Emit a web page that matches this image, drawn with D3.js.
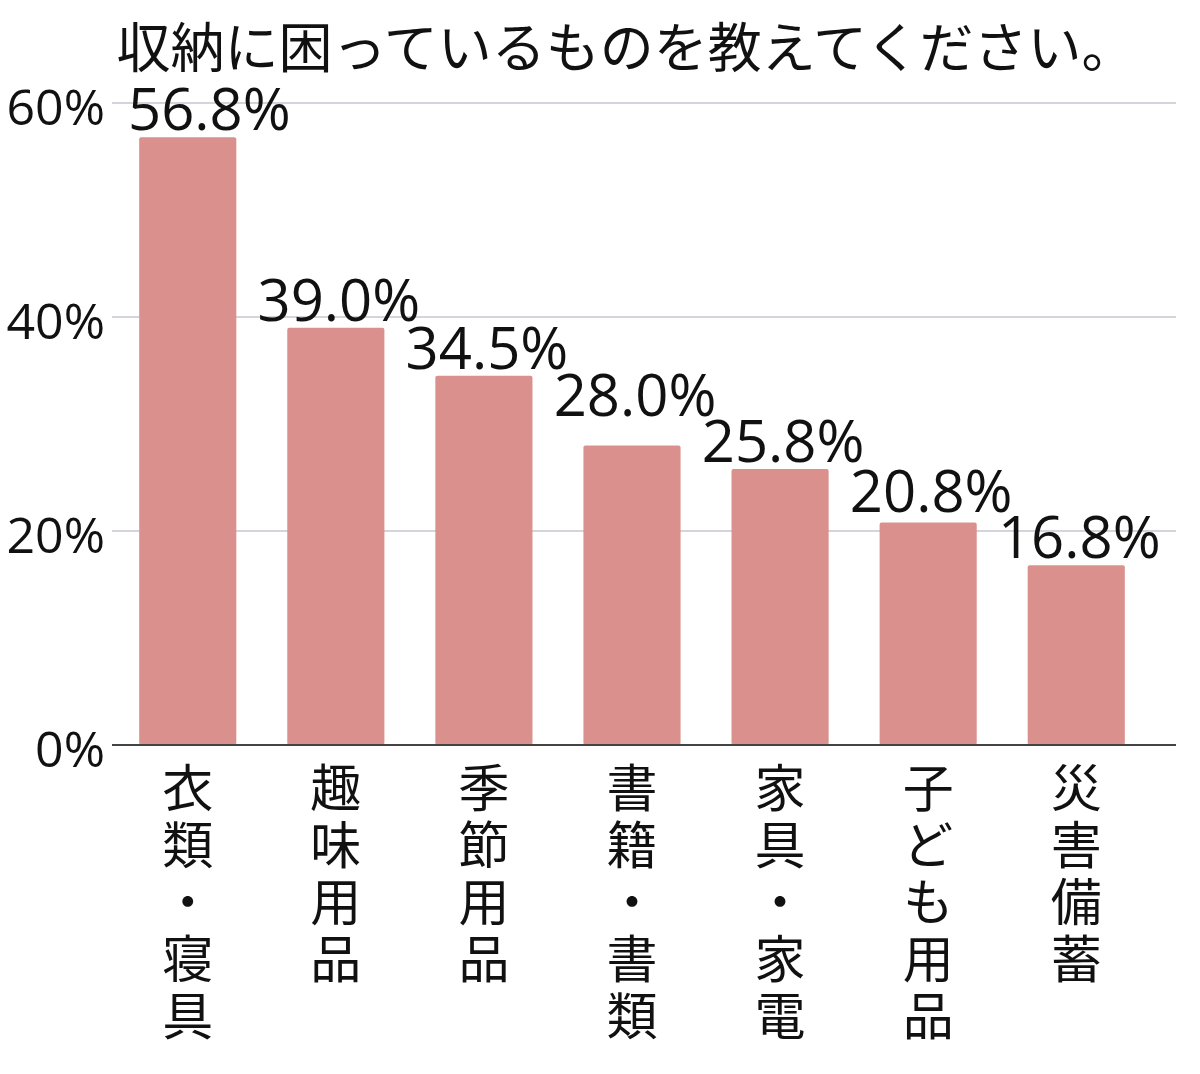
<!DOCTYPE html>
<html lang="ja">
<head>
<meta charset="UTF-8">
<title>収納に困っているもの</title>
<script src="https://d3js.org/d3.v7.min.js"></script>
<style>
    body { margin: 0; background: #fff; }
    svg text { font-family: 'Noto Sans CJK JP', 'Noto Sans', sans-serif; fill: #111; }
    svg text.num { font-family: 'Open Sans', 'Noto Sans', sans-serif; }
    svg text.cat { writing-mode: vertical-rl; letter-spacing: 6px; }
</style>
</head>
<body>
<div id="chart"></div>
<script>
    // data
    const categories = ['衣類・寝具', '趣味用品', '季節用品', '書籍・書類', '家具・家電', '子ども用品', '災害備蓄'];
    const values = [56.8, 39.0, 34.5, 28.0, 25.8, 20.8, 16.8];
    const yTicks = [0, 20, 40, 60];
    const title = '収納に困っているものを教えてください。';

    const width = 1200;
    const height = 1074;
    const plotLeft = 112, plotRight = 1176;
    const plotTop = 103, plotBottom = 745;
    const labelSize = 58;

    const svg = d3.select('#chart').append('svg')
        .attr('width', width)
        .attr('height', height);

    const x = d3.scaleBand()
        .domain(categories)
        .range([114, 1150])
        .paddingInner(0.344)
        .paddingOuter(0.17);

    const y = d3.scaleLinear()
        .domain([0, 60])
        .range([plotBottom, plotTop]);

    // title
    svg.append('text')
        .attr('x', 626)
        .attr('y', 68)
        .attr('text-anchor', 'middle')
        .style('font-size', '54px')
        .text(title);

    // gridlines
    svg.append('g')
        .selectAll('line')
        .data(yTicks.filter(d => d > 0))
        .join('line')
        .attr('x1', plotLeft)
        .attr('x2', plotRight)
        .attr('y1', d => y(d))
        .attr('y2', d => y(d))
        .attr('stroke', '#d4d4da')
        .attr('stroke-width', 2);

    // y tick labels
    svg.append('g')
        .selectAll('text')
        .data(yTicks)
        .join('text')
        .attr('class', 'num')
        .attr('x', 105)
        .attr('y', d => y(d) + 22)
        .attr('text-anchor', 'end')
        .style('font-size', '50px')
        .text(d => d + '%');

    // bars
    svg.append('g')
        .selectAll('rect')
        .data(values)
        .join('rect')
        .attr('x', (d, i) => x(categories[i]))
        .attr('y', d => y(d))
        .attr('width', x.bandwidth())
        .attr('height', d => y(0) - y(d))
        .attr('rx', 2)
        .attr('fill', '#da918d');

    // baseline
    svg.append('line')
        .attr('x1', plotLeft)
        .attr('x2', plotRight)
        .attr('y1', y(0))
        .attr('y2', y(0))
        .attr('stroke', '#444')
        .attr('stroke-width', 2);

    // value labels
    const labels = svg.append('g')
        .selectAll('text')
        .data(values)
        .join('text')
        .attr('class', 'num')
        .attr('x', (d, i) => x(categories[i]) + x.bandwidth() / 2 + 3)
        .attr('y', d => y(d) - 7)
        .attr('text-anchor', 'middle')
        .style('font-size', labelSize + 'px')
        .text(d => d.toFixed(1) + '%');

    // keep the first label clear of the tick labels
    labels.each(function () {
        const box = this.getBBox();
        if (box.x < 128) {
            d3.select(this).attr('x', +d3.select(this).attr('x') + (128 - box.x));
        }
    });

    // lift a label when it runs into its right-hand neighbour
    const nodes = labels.nodes();
    for (let i = nodes.length - 2; i >= 0; i--) {
        const a = nodes[i].getBBox(), b = nodes[i + 1].getBBox();
        const baseA = +nodes[i].getAttribute('y');
        const topB = +nodes[i + 1].getAttribute('y') - labelSize * 0.72;
        if (a.x + a.width > b.x && baseA > topB - 4) {
            nodes[i].setAttribute('y', topB - 4);
        }
    }

    // vertical category labels
    svg.append('g')
        .selectAll('text')
        .data(categories)
        .join('text')
        .attr('class', 'cat')
        .attr('x', d => x(d) + x.bandwidth() / 2)
        .attr('y', 762)
        .style('font-size', '51px')
        .text(d => d);
</script>
</body>
</html>
